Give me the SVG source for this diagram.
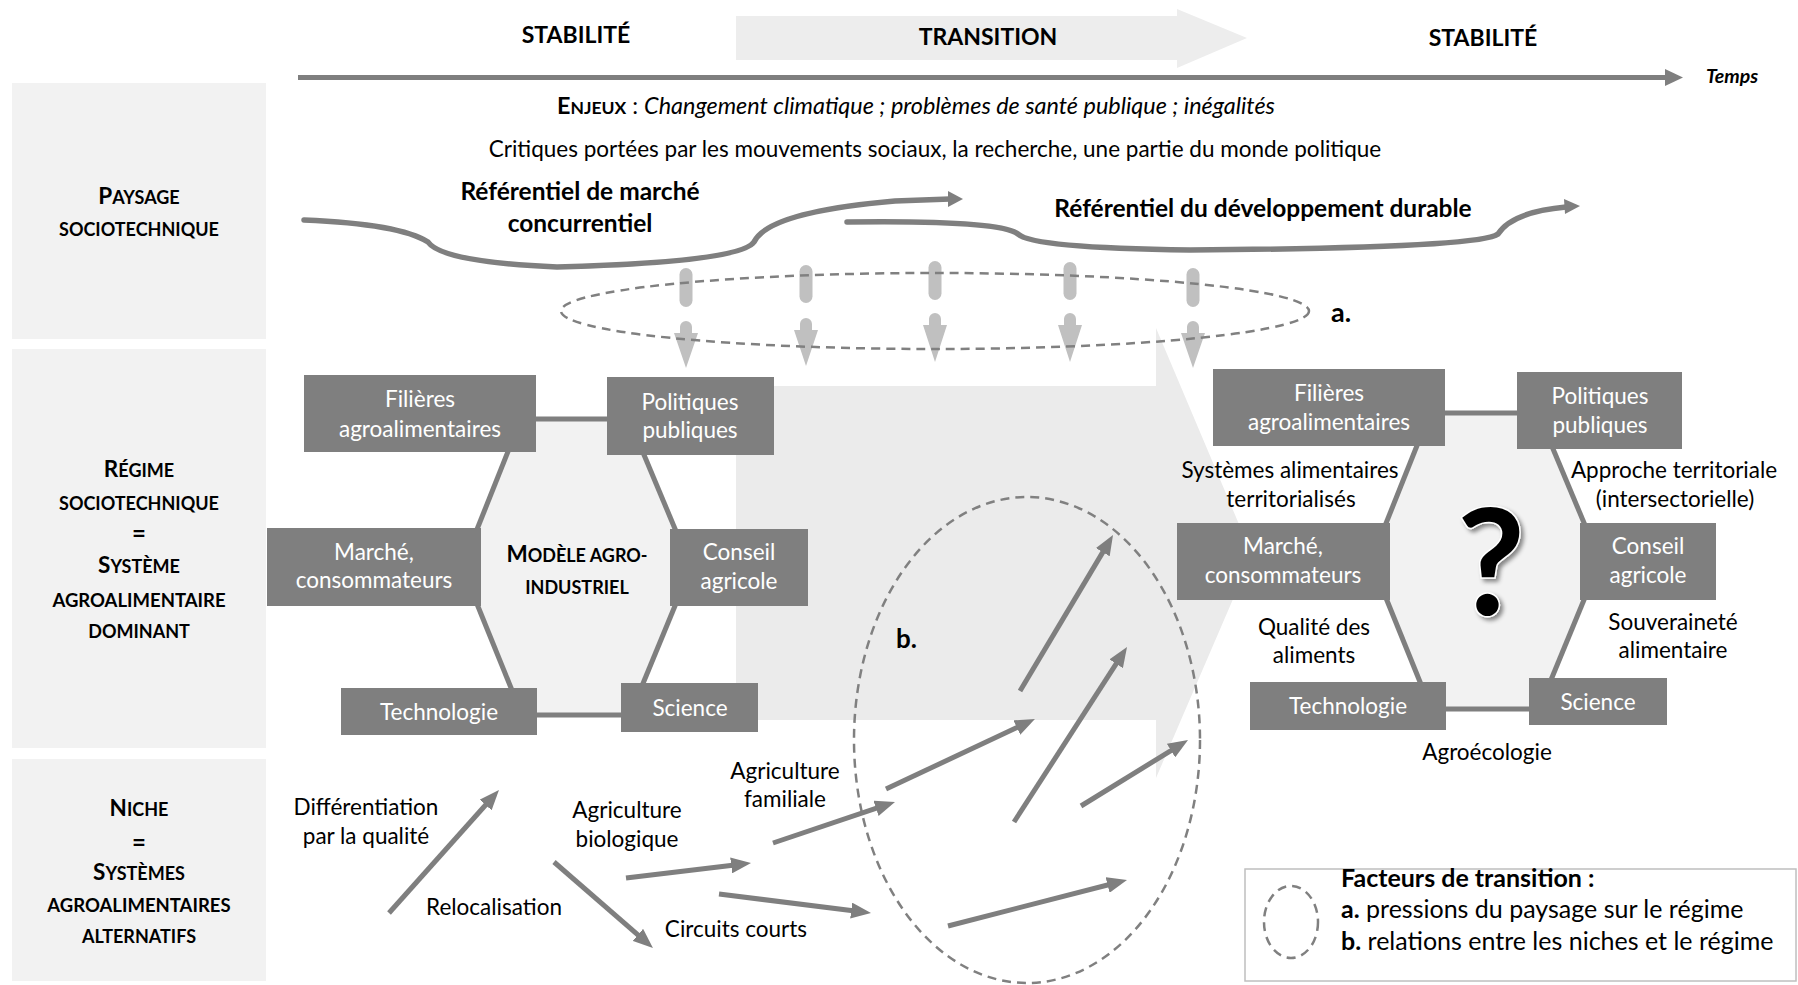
<svg xmlns="http://www.w3.org/2000/svg" width="1798" height="985" viewBox="0 0 1798 985">
<style>
text{font-family:Lato,"Liberation Sans",sans-serif;fill:#000}
.panel{fill:#f2f2f2}
.box{fill:#7f7f7f}
.bt{fill:#fff;font-size:22.5px;text-anchor:middle}
.t{font-size:22.5px;text-anchor:middle}
.hd{font-weight:bold;text-anchor:middle}
.big{font-size:22.5px}
.sm{font-size:18px}
.eq{font-size:24px;font-weight:bold;text-anchor:middle}
.edge{stroke:#7f7f7f;stroke-width:5;fill:none}
.arr{stroke:#7f7f7f;stroke-width:5;fill:none;marker-end:url(#ah)}
.wave{stroke:#7f7f7f;stroke-width:5.5;fill:none;stroke-linecap:round}
.dash{fill:none;stroke:#808080;stroke-width:2.5;stroke-dasharray:9 6}
.lg{fill:#c0c0c0}
.leg{font-size:25px}
</style>
<defs>
<marker id="ah" markerUnits="userSpaceOnUse" markerWidth="20" markerHeight="16" viewBox="0 0 20 16" refX="10" refY="8" orient="auto">
<path d="M0,0 L20,8 L0,16 z" fill="#7f7f7f"/>
</marker>
<filter id="sh" x="-30%" y="-30%" width="160%" height="160%">
<feDropShadow dx="3" dy="3" stdDeviation="2" flood-color="#000" flood-opacity="0.45"/>
</filter>
</defs>
<rect width="1798" height="985" fill="#fff"/>

<!-- side panels -->
<g id="panel-paysage">
<rect class="panel" x="12" y="83" width="254" height="256"/>
<text class="hd" x="139" y="204"><tspan class="big">P</tspan><tspan class="sm">AYSAGE</tspan></text>
<text class="hd sm" x="139" y="236">SOCIOTECHNIQUE</text>
</g>
<g id="panel-regime">
<rect class="panel" x="12" y="349" width="254" height="399"/>
<text class="hd" x="139" y="477"><tspan class="big">R</tspan><tspan class="sm">ÉGIME</tspan></text>
<text class="hd sm" x="139" y="510">SOCIOTECHNIQUE</text>
<text class="eq" x="139" y="542">=</text>
<text class="hd" x="139" y="573"><tspan class="big">S</tspan><tspan class="sm">YSTÈME</tspan></text>
<text class="hd" x="139" y="607" font-size="18.5">AGROALIMENTAIRE</text>
<text class="hd sm" x="139" y="638">DOMINANT</text>
</g>
<g id="panel-niche">
<rect class="panel" x="12" y="759" width="254" height="222"/>
<text class="hd" x="139" y="816"><tspan class="big">N</tspan><tspan class="sm">ICHE</tspan></text>
<text class="eq" x="139" y="851">=</text>
<text class="hd" x="139" y="880"><tspan class="big">S</tspan><tspan class="sm">YSTÈMES</tspan></text>
<text class="hd" x="139" y="912" font-size="18.5">AGROALIMENTAIRES</text>
<text class="hd sm" x="139" y="943">ALTERNATIFS</text>
</g>

<!-- big middle transition arrow -->
<path id="transition-arrow" d="M736,386 H1156 V328 L1252,555 L1156,778 V720 H736 Z" fill="#ebebeb"/>

<!-- top timeline -->
<g id="timeline">
<path d="M736,16 H1177 V9 L1247,38 L1177,68 V60 H736 Z" fill="#ededed"/>
<text class="hd" x="576" y="43" font-size="23">STABILITÉ</text>
<text class="hd" x="988" y="45" font-size="23">TRANSITION</text>
<text class="hd" x="1483" y="46" font-size="23">STABILITÉ</text>
<line x1="298" y1="77.5" x2="1667" y2="77.5" stroke="#7f7f7f" stroke-width="5"/>
<path d="M1665,69 L1683,77.5 L1665,86 Z" fill="#7f7f7f"/>
<text x="1706" y="83" font-size="19.5" font-weight="bold" font-style="italic">Temps</text>
</g>

<!-- landscape texts -->
<g id="enjeux">
<text x="916" y="114" style="font-size:23.4px;text-anchor:middle"><tspan font-weight="bold">E</tspan><tspan font-weight="bold" style="font-size:17.5px">NJEUX</tspan> : <tspan font-style="italic">Changement climatique ; problèmes de santé publique ; inégalités</tspan></text>
</g>
<g id="critiques">
<text class="t" x="935" y="157">Critiques portées par les mouvements sociaux, la recherche, une partie du monde politique</text>
</g>
<g id="ref-marche">
<text class="hd" x="580" y="200" font-size="24.5">Référentiel de marché</text>
<text class="hd" x="580" y="232" font-size="24.5">concurrentiel</text>
</g>
<g id="ref-durable">
<text class="hd" x="1263" y="217" font-size="24.5">Référentiel du développement durable</text>
</g>

<!-- hexagon backgrounds -->
<polygon points="521,419 629,419 691,567 630,715 522,715 462,567" fill="#f2f2f2"/>
<polygon points="1430,413 1538,413 1600,561 1539,709 1431,709 1371,561" fill="#f2f2f2"/>

<!-- connectors -->
<g id="connectors">
<g id="hex-left-edges" class="edge">
<line x1="521" y1="419" x2="629" y2="419"/>
<line x1="629" y1="419" x2="691" y2="567"/>
<line x1="691" y1="567" x2="630" y2="715"/>
<line x1="630" y1="715" x2="522" y2="715"/>
<line x1="522" y1="715" x2="462" y2="567"/>
<line x1="462" y1="567" x2="521" y2="419"/>
</g>
<g id="hex-right-edges" class="edge">
<line x1="1430" y1="413" x2="1538" y2="413"/>
<line x1="1538" y1="413" x2="1600" y2="561"/>
<line x1="1600" y1="561" x2="1539" y2="709"/>
<line x1="1539" y1="709" x2="1431" y2="709"/>
<line x1="1431" y1="709" x2="1371" y2="561"/>
<line x1="1371" y1="561" x2="1430" y2="413"/>
</g>
<g id="wave-arrows">
<path class="wave" d="M304,220 Q400,224 428,242 Q442,262 557,267 Q740,262 754,242 Q768,212 895,201 L950,199"/>
<path d="M948,191 L963,199 L948,207 Z" fill="#7f7f7f"/>
<path class="wave" d="M847,222 Q1000,220 1018,234 Q1032,248 1190,250 Q1480,248 1498,234 Q1512,212 1566,207"/>
<path d="M1564,199 L1580,206 L1565,214 Z" fill="#7f7f7f"/>
</g>
<g id="pressure-arrows" class="lg">
<rect x="679.5" y="268" width="13" height="39" rx="6.5"/>
<path d="M680,327 A6,6 0 0 1 692,327 V333 H698 L686,368 L674,333 H680 Z"/>
<rect x="799.5" y="265" width="13" height="38" rx="6.5"/>
<path d="M800,324 A6,6 0 0 1 812,324 V330 H818 L806,366 L794,330 H800 Z"/>
<rect x="928.5" y="261" width="13" height="39" rx="6.5"/>
<path d="M929,319 A6,6 0 0 1 941,319 V325 H947 L935,362 L923,325 H929 Z"/>
<rect x="1063.5" y="262" width="13" height="38" rx="6.5"/>
<path d="M1064,319 A6,6 0 0 1 1076,319 V325 H1082 L1070,362 L1058,325 H1064 Z"/>
<rect x="1186.5" y="268" width="13" height="39" rx="6.5"/>
<path d="M1187,327 A6,6 0 0 1 1199,327 V333 H1205 L1193,368 L1181,333 H1187 Z"/>
</g>
<ellipse id="factor-a" class="dash" cx="935" cy="311" rx="374" ry="38"/>
<ellipse id="factor-b" class="dash" cx="1027" cy="740" rx="173" ry="243" stroke-width="2"/>
<g id="niche-arrows">
<line class="arr" x1="389" y1="913" x2="492.3" y2="797.5"/>
<line class="arr" x1="554" y1="862" x2="645.4" y2="941.4"/>
<line class="arr" x1="626" y1="878" x2="741.1" y2="864.2"/>
<line class="arr" x1="719" y1="894" x2="861.1" y2="911.8"/>
<line class="arr" x1="773" y1="843" x2="885.5" y2="805.2"/>
<line class="arr" x1="886" y1="789" x2="1025.9" y2="723.3"/>
<line class="arr" x1="1020" y1="691" x2="1107.9" y2="543.6"/>
<line class="arr" x1="1014" y1="822" x2="1121.6" y2="655.4"/>
<line class="arr" x1="1081" y1="806" x2="1179.5" y2="745.3"/>
<line class="arr" x1="948" y1="926" x2="1117.3" y2="882.5"/>
</g>
</g>

<!-- left hexagon nodes -->
<g id="l-filieres"><rect class="box" x="304" y="375" width="232" height="77"/>
<text class="bt" x="420" y="407">Filières</text><text class="bt" x="420" y="437">agroalimentaires</text></g>
<g id="l-politiques"><rect class="box" x="607" y="377" width="167" height="78"/>
<text class="bt" x="690" y="410">Politiques</text><text class="bt" x="690" y="438">publiques</text></g>
<g id="l-marche"><rect class="box" x="267" y="528" width="214" height="78"/>
<text class="bt" x="374" y="560">Marché,</text><text class="bt" x="374" y="588">consommateurs</text></g>
<g id="l-conseil"><rect class="box" x="670" y="529" width="138" height="77"/>
<text class="bt" x="739" y="560">Conseil</text><text class="bt" x="739" y="589">agricole</text></g>
<g id="l-techno"><rect class="box" x="341" y="688" width="196" height="47"/>
<text class="bt" x="439" y="720">Technologie</text></g>
<g id="l-science"><rect class="box" x="621" y="683" width="137" height="49"/>
<text class="bt" x="690" y="716">Science</text></g>
<g id="l-modele">
<text class="hd" x="577" y="562"><tspan class="big">M</tspan><tspan class="sm">ODÈLE AGRO-</tspan></text>
<text class="hd sm" x="577" y="594">INDUSTRIEL</text>
</g>

<!-- right hexagon nodes -->
<g id="r-filieres"><rect class="box" x="1213" y="369" width="232" height="77"/>
<text class="bt" x="1329" y="401">Filières</text><text class="bt" x="1329" y="430">agroalimentaires</text></g>
<g id="r-politiques"><rect class="box" x="1517" y="372" width="165" height="77"/>
<text class="bt" x="1600" y="404">Politiques</text><text class="bt" x="1600" y="433">publiques</text></g>
<g id="r-marche"><rect class="box" x="1177" y="523" width="213" height="77"/>
<text class="bt" x="1283" y="554">Marché,</text><text class="bt" x="1283" y="583">consommateurs</text></g>
<g id="r-conseil"><rect class="box" x="1580" y="523" width="136" height="77"/>
<text class="bt" x="1648" y="554">Conseil</text><text class="bt" x="1648" y="583">agricole</text></g>
<g id="r-techno"><rect class="box" x="1250" y="682" width="196" height="48"/>
<text class="bt" x="1348" y="714">Technologie</text></g>
<g id="r-science"><rect class="box" x="1529" y="678" width="138" height="47"/>
<text class="bt" x="1598" y="710">Science</text></g>
<g id="r-question">
<text x="1491" y="615" font-family="'DejaVu Sans',sans-serif" font-weight="bold" font-size="148" text-anchor="middle" fill="#000" stroke="#fff" stroke-width="3" paint-order="stroke" filter="url(#sh)">?</text>
</g>
<g id="r-labels">
<text class="t" x="1290" y="478">Systèmes alimentaires</text>
<text class="t" x="1291" y="507">territorialisés</text>
<text class="t" x="1674" y="478">Approche territoriale</text>
<text class="t" x="1675" y="507">(intersectorielle)</text>
<text class="t" x="1314" y="635">Qualité des</text>
<text class="t" x="1314" y="663">aliments</text>
<text class="t" x="1673" y="630">Souveraineté</text>
<text class="t" x="1673" y="658">alimentaire</text>
<text class="t" x="1487" y="760">Agroécologie</text>
</g>

<!-- labels a / b -->
<text id="label-a" x="1331" y="322" font-size="27" font-weight="bold">a.</text>
<text id="label-b" x="896" y="648" font-size="26" font-weight="bold">b.</text>

<!-- niche labels -->
<g id="niche-labels">
<text class="t" x="366" y="815">Différentiation</text>
<text class="t" x="366" y="844">par la qualité</text>
<text class="t" x="494" y="915">Relocalisation</text>
<text class="t" x="627" y="818">Agriculture</text>
<text class="t" x="627" y="847">biologique</text>
<text class="t" x="785" y="779">Agriculture</text>
<text class="t" x="785" y="807">familiale</text>
<text class="t" x="736" y="937">Circuits courts</text>
</g>

<!-- legend -->
<g id="legend">
<rect x="1245" y="869" width="551" height="112" fill="#fff" stroke="#bfbfbf" stroke-width="1.5"/>
<ellipse class="dash" cx="1291" cy="922" rx="27" ry="36" stroke-width="2"/>
<text class="leg" x="1341" y="887" font-weight="bold">Facteurs de transition :</text>
<text class="leg" x="1341" y="918"><tspan font-weight="bold">a.</tspan> pressions du paysage sur le régime</text>
<text class="leg" x="1341" y="950"><tspan font-weight="bold">b.</tspan> relations entre les niches et le régime</text>
</g>
</svg>
